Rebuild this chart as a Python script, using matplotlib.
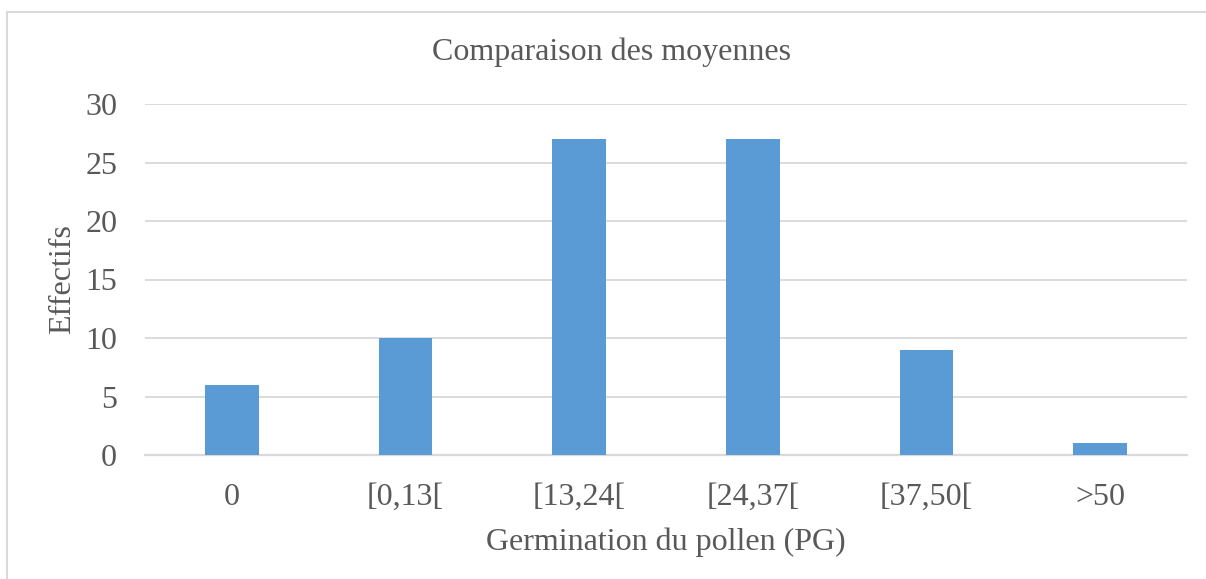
import matplotlib
matplotlib.use("Agg")
import matplotlib.pyplot as plt
from matplotlib.lines import Line2D

# Données
classes = ["0", "[0,13[", "[13,24[", "[24,37[", "[37,50[", ">50"]
effectifs = [6, 10, 27, 27, 9, 1]
yticks = [0, 5, 10, 15, 20, 25, 30]

gris_texte = "#595959"
gris_grille = "#D9D9D9"
bleu = "#5B9BD5"

plt.rcParams["font.family"] = ["Liberation Serif", "DejaVu Serif"]

W, H = 1206, 579
fig = plt.figure(figsize=(W / 100, H / 100), dpi=100)
ax = fig.add_axes([145 / W, 1 - 455 / H, (1187 - 145) / W, (455 - 104) / H])

x = range(len(classes))
ax.bar(x, effectifs, width=0.31, color=bleu, zorder=3)

ax.set_xlim(-0.5, len(classes) - 0.5)
ax.set_ylim(0, 30)
ax.set_yticks(yticks)
ax.set_xticks(list(x))
ax.set_xticklabels(classes)
ax.yaxis.grid(True, color=gris_grille, linewidth=1.3, zorder=0)
ax.set_axisbelow(True)

for side in ["top", "right", "left"]:
    ax.spines[side].set_visible(False)
ax.spines["bottom"].set_color(gris_grille)
ax.spines["bottom"].set_linewidth(1.6)

ax.tick_params(axis="both", length=0, labelsize=23, labelcolor=gris_texte)
ax.tick_params(axis="y", pad=20)
ax.tick_params(axis="x", pad=20)

ax.set_ylabel("Effectifs", fontsize=23, color=gris_texte, labelpad=6)
ax.set_xlabel("Germination du pollen (PG)", fontsize=23, color=gris_texte, labelpad=11)

fig.text(611 / W, 1 - 52 / H, "Comparaison des moyennes", ha="center", va="center",
         fontsize=23, color=gris_texte)

# cadre du graphique : seuls les bords gauche et haut sont visibles
fig.add_artist(Line2D([7 / W, 7 / W], [0, 1 - 12 / H], transform=fig.transFigure,
                      color=gris_grille, linewidth=1.5))
fig.add_artist(Line2D([7 / W, 1], [1 - 12 / H, 1 - 12 / H], transform=fig.transFigure,
                      color=gris_grille, linewidth=1.5))

fig.savefig("out.png", dpi=100)
